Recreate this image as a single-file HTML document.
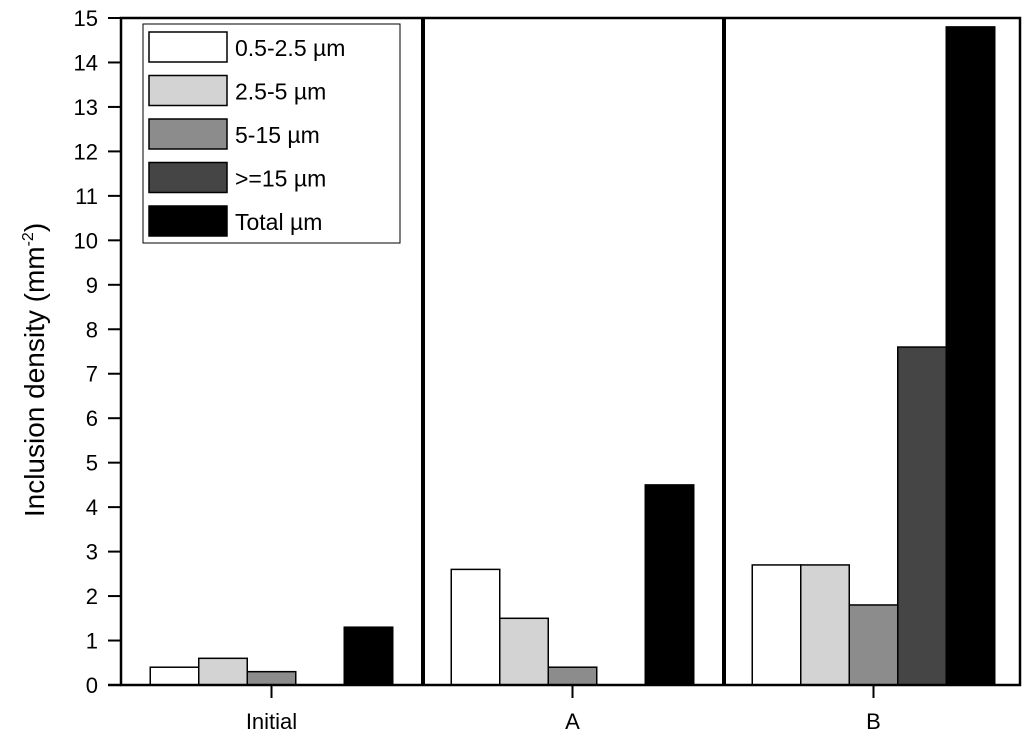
<!DOCTYPE html>
<html><head><meta charset="utf-8"><style>
body{margin:0;background:#fff}
text{font-family:"Liberation Sans",sans-serif;fill:#000}
</style></head><body>
<svg id="chart" width="1024" height="736" xmlns="http://www.w3.org/2000/svg">
<g id="bars"></g>
<g id="axes"></g>
<g id="legend"></g>
</svg>
<script>
const categories = ["Initial","A","B"];
const seriesNames = ["0.5-2.5 µm","2.5-5 µm","5-15 µm",">=15 µm","Total µm"];
const s1 = [0.4, 2.6, 2.7];
const s2 = [0.6, 1.5, 2.7];
const s3 = [0.3, 0.4, 1.8];
const s4 = [0, 0, 7.6];
const s5 = [1.3, 4.5, 14.8];
const yTicks = [0,1,2,3,4,5,6,7,8,9,10,11,12,13,14,15];
const series = [s1,s2,s3,s4,s5];
const fills = ["#ffffff","#d3d3d3","#8c8c8c","#454545","#000000"];
const NS="http://www.w3.org/2000/svg";
const L=121,R=1020,T=18,B=685,ymax=15;
const y=v=>B-(v/ymax)*(B-T);
const groupW=301;
const xc=i=>L+groupW*(i+0.5);
const bw=48.5;
function mk(tag,attrs,parent){const e=document.createElementNS(NS,tag);for(const k in attrs)e.setAttribute(k,attrs[k]);parent.appendChild(e);return e;}
const bars=document.getElementById('bars'),axes=document.getElementById('axes'),leg=document.getElementById('legend');
categories.forEach((c,i)=>{
  series.forEach((s,j)=>{
    if(s[i]<=0)return;
    const x0=xc(i)-2.5*bw+j*bw;
    const r=mk('rect',{x:x0,y:y(s[i]),width:bw,height:B-y(s[i]),fill:fills[j],stroke:'#000','stroke-width':1.5},bars);
    
    
  });
});
const fr=mk('rect',{x:L,y:T,width:R-L,height:B-T,fill:'none',stroke:'#000','stroke-width':2.5},axes);

for(let i=1;i<categories.length;i++){
  const d=mk('line',{x1:L+groupW*i+1,x2:L+groupW*i+1,y1:T,y2:B,stroke:'#000','stroke-width':4},axes);
  
}
mk('line',{x1:108,x2:L,y1:B,y2:B,stroke:'#000','stroke-width':2.5},axes);
yTicks.forEach(v=>{
  const t=mk('line',{x1:108,x2:L,y1:y(v),y2:y(v),stroke:'#000','stroke-width':2},axes);
  
  const tx=mk('text',{x:98,y:y(v)+8,'text-anchor':'end','font-size':22},axes);
  tx.textContent=v;
  
});
categories.forEach((c,i)=>{
  const t=mk('line',{x1:xc(i),x2:xc(i),y1:B,y2:B+13,stroke:'#000','stroke-width':2},axes);
  
  const tx=mk('text',{x:xc(i),y:729,'text-anchor':'middle','font-size':22},axes);
  tx.textContent=c;
  
});
const yt=mk('text',{x:0,y:0,'text-anchor':'middle','font-size':28,transform:'translate(44,370) rotate(-90)'},axes);
yt.innerHTML='Inclusion density (mm<tspan dy="-11" font-size="16">-2</tspan><tspan dy="11">)</tspan>';

const lb=mk('rect',{x:143,y:24,width:257,height:219,fill:'#fff',stroke:'#000','stroke-width':1},leg);

seriesNames.forEach((n,j)=>{
  const yy=32+j*43.5;
  const g=mk('g',{},leg);
  
  mk('rect',{x:149,y:yy,width:78,height:30,fill:fills[j],stroke:'#000','stroke-width':1.5},g);
  const t=mk('text',{x:235,y:yy+24,'font-size':23},g);
  t.textContent=n;
});
</script>
</body></html>
